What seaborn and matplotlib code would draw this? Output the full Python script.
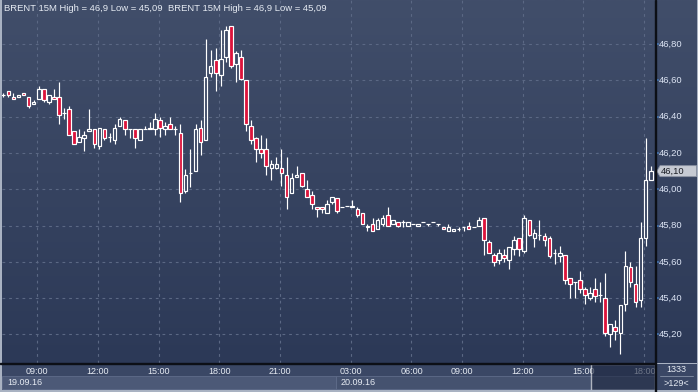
import numpy as np
import pandas as pd
import matplotlib
matplotlib.use("Agg")
import matplotlib.pyplot as plt
import matplotlib.transforms as mtransforms
from matplotlib.colors import LinearSegmentedColormap
from matplotlib.patches import Rectangle, Polygon
import seaborn as sns

# BRENT, 15 minute bars, 19.09.16 - 20.09.16
opens = [46.52, 46.54, 46.51, 46.51, 46.53, 46.51, 46.47, 46.50, 46.55, 46.48,
         46.51, 46.51, 46.42, 46.44, 46.32, 46.26, 46.28, 46.32, 46.33, 46.24,
         46.33, 46.29, 46.27, 46.35, 46.38, 46.33, 46.33, 46.27, 46.33, 46.34,
         46.33, 46.38, 46.33, 46.36, 46.33, 46.31, 45.99, 46.09, 46.10, 46.34,
         46.27, 46.64, 46.71, 46.63, 46.73, 46.90, 46.69, 46.73, 46.60, 46.35,
         46.28, 46.22, 46.22, 46.12, 46.12, 46.12, 46.08, 45.98, 46.07, 46.09,
         46.00, 45.97, 45.90, 45.90, 45.87, 45.93, 45.95, 45.90, 45.91, 45.90,
         45.89, 45.87, 45.80, 45.81, 45.78, 45.81, 45.86, 45.81, 45.82, 45.82,
         45.80, 45.81, 45.80, 45.82, 45.81, 45.82, 45.81, 45.79, 45.77, 45.77,
         45.78, 45.79, 45.80, 45.79, 45.80, 45.84, 45.71, 45.64, 45.61, 45.64,
         45.61, 45.67, 45.73, 45.66, 45.83, 45.73, 45.75, 45.74, 45.73, 45.65,
         45.63, 45.64, 45.51, 45.49, 45.50, 45.45, 45.40, 45.45, 45.42, 45.40,
         45.20, 45.24, 45.21, 45.37, 45.57, 45.48, 45.39, 45.73, 46.05]
highs = [46.53, 46.54, 46.53, 46.52, 46.53, 46.51, 46.49, 46.57, 46.55, 46.52,
         46.55, 46.59, 46.45, 46.46, 46.32, 46.33, 46.32, 46.44, 46.33, 46.34,
         46.33, 46.31, 46.36, 46.40, 46.38, 46.33, 46.33, 46.33, 46.35, 46.37,
         46.42, 46.40, 46.37, 46.40, 46.35, 46.36, 46.11, 46.22, 46.36, 46.38,
         46.83, 46.77, 46.78, 46.88, 46.90, 46.90, 46.76, 46.77, 46.60, 46.38,
         46.29, 46.30, 46.28, 46.16, 46.18, 46.22, 46.18, 46.09, 46.13, 46.09,
         46.05, 45.99, 45.90, 45.90, 45.94, 45.96, 45.95, 45.90, 45.91, 45.94,
         45.90, 45.87, 45.81, 45.84, 45.84, 45.86, 45.90, 45.83, 45.82, 45.83,
         45.82, 45.81, 45.81, 45.82, 45.81, 45.82, 45.81, 45.79, 45.81, 45.78,
         45.79, 45.79, 45.82, 45.79, 45.85, 45.84, 45.72, 45.65, 45.67, 45.67,
         45.68, 45.74, 45.73, 45.86, 45.83, 45.78, 45.83, 45.76, 45.74, 45.67,
         45.69, 45.64, 45.51, 45.49, 45.55, 45.46, 45.46, 45.51, 45.49, 45.54,
         45.26, 45.28, 45.36, 45.66, 45.60, 45.58, 45.82, 46.28, 46.13]
lows = [46.51, 46.51, 46.50, 46.51, 46.52, 46.45, 46.47, 46.50, 46.48, 46.47,
        46.50, 46.36, 46.39, 46.30, 46.25, 46.26, 46.21, 46.32, 46.23, 46.22,
        46.27, 46.26, 46.25, 46.35, 46.30, 46.28, 46.23, 46.27, 46.33, 46.33,
        46.30, 46.29, 46.30, 46.33, 46.30, 45.93, 45.98, 46.01, 46.10, 46.19,
        46.27, 46.62, 46.54, 46.57, 46.70, 46.67, 46.59, 46.60, 46.32, 46.25,
        46.15, 46.17, 46.08, 46.05, 46.11, 46.02, 45.89, 45.98, 46.07, 46.01,
        45.96, 45.89, 45.85, 45.87, 45.87, 45.92, 45.87, 45.90, 45.91, 45.90,
        45.85, 45.81, 45.77, 45.77, 45.78, 45.80, 45.80, 45.81, 45.79, 45.79,
        45.80, 45.81, 45.80, 45.82, 45.80, 45.82, 45.80, 45.78, 45.77, 45.77,
        45.77, 45.77, 45.78, 45.79, 45.80, 45.64, 45.65, 45.58, 45.59, 45.60,
        45.56, 45.64, 45.63, 45.65, 45.74, 45.68, 45.72, 45.69, 45.62, 45.59,
        45.60, 45.48, 45.40, 45.40, 45.43, 45.37, 45.39, 45.38, 45.38, 45.19,
        45.13, 45.17, 45.09, 45.33, 45.46, 45.35, 45.35, 45.69, 46.05]
closes = [46.52, 46.52, 46.50, 46.52, 46.52, 46.46, 46.48, 46.55, 46.49, 46.52,
          46.50, 46.41, 46.42, 46.30, 46.25, 46.29, 46.30, 46.33, 46.25, 46.34,
          46.28, 46.29, 46.34, 46.39, 46.33, 46.33, 46.28, 46.33, 46.33, 46.33,
          46.39, 46.34, 46.35, 46.33, 46.33, 45.98, 46.08, 46.09, 46.33, 46.26,
          46.62, 46.68, 46.64, 46.72, 46.88, 46.68, 46.75, 46.61, 46.36, 46.27,
          46.22, 46.20, 46.13, 46.14, 46.14, 46.09, 45.96, 46.06, 46.08, 46.02,
          45.96, 45.92, 45.89, 45.89, 45.92, 45.96, 45.88, 45.90, 45.91, 45.91,
          45.86, 45.81, 45.79, 45.77, 45.83, 45.84, 45.80, 45.83, 45.80, 45.82,
          45.82, 45.81, 45.81, 45.82, 45.81, 45.82, 45.81, 45.78, 45.79, 45.78,
          45.78, 45.79, 45.78, 45.79, 45.83, 45.72, 45.65, 45.60, 45.65, 45.62,
          45.68, 45.72, 45.67, 45.84, 45.75, 45.76, 45.75, 45.72, 45.63, 45.65,
          45.65, 45.50, 45.48, 45.49, 45.45, 45.42, 45.43, 45.41, 45.42, 45.21,
          45.26, 45.22, 45.36, 45.58, 45.49, 45.38, 45.73, 46.05, 46.10]

tick_bars = [7, 19, 31, 43, 55, 69, 81, 91, 103, 115, 127]
tick_labels = ["09:00", "12:00", "15:00", "18:00", "21:00", "03:00",
               "06:00", "09:00", "12:00", "15:00", "18:00"]
price_levels = [45.2, 45.4, 45.6, 45.8, 46.0, 46.2, 46.4, 46.6, 46.8]
dates = ["19.09.16", "20.09.16"]
date_start_bars = [0, 66]
last_price = 46.10
title = "BRENT 15M High = 46,9 Low = 45,09"
bars_total = "1333"
bars_visible = ">129<"

sns.set_style("dark")
plt.rcParams["font.family"] = ["Liberation Sans", "DejaVu Sans"]

df = pd.DataFrame({"open": opens, "high": highs, "low": lows, "close": closes})
df["bar"] = np.arange(len(df))
df["up"] = df["close"] >= df["open"]
df["body_lo"] = df[["open", "close"]].min(axis=1)
df["body_hi"] = df[["open", "close"]].max(axis=1)

W, H = 698, 392
fig = plt.figure(figsize=(W / 100, H / 100), dpi=100, facecolor="#a9b2c2")


def px_box(x0, y0, x1, y1):
    return [x0 / W, 1 - y1 / H, (x1 - x0) / W, (y1 - y0) / H]


ax = fig.add_axes(px_box(2, 0, 655, 363))
ax_r = fig.add_axes(px_box(656, 0, 697, 363))
ax_b = fig.add_axes(px_box(2, 364, 655, 390))
ax_c = fig.add_axes(px_box(656, 364, 697, 390))

step = 5.058
xlim = ((2 - 3.3) / step, (655 - 3.3) / step)
ylim = (46 - (363 - 189.3) / 181.5, 46 + 189.3 / 181.5)

bg = LinearSegmentedColormap.from_list("bg", ["#2c3957", "#414e6a"])
grad = np.linspace(0, 1, 256).reshape(-1, 1)
for a in (ax, ax_r):
    a.set_autoscale_on(False)
    a.set_xlim(xlim if a is ax else (0, 1))
    a.set_ylim(ylim)
    a.imshow(grad, cmap=bg, origin="lower", aspect="auto",
             extent=[*a.get_xlim(), *ylim], zorder=0)

for a in (ax, ax_r, ax_b, ax_c):
    a.set_xticks([])
    a.set_yticks([])
    for s in a.spines.values():
        s.set_visible(False)

fig.patches.append(Rectangle((655 / W, 0), 1 / W, 1, transform=fig.transFigure,
                             color="#0c0f16", zorder=10))
fig.patches.append(Rectangle((0, 1 - 364 / H), 655 / W, 1 / H, transform=fig.transFigure,
                             color="#0c0f16", zorder=10))

grid_kw = dict(color="#5b6884", lw=0.8, dashes=(2.5, 3.5), zorder=1)
for lev in price_levels:
    ax.axhline(lev, **grid_kw)
for b in tick_bars:
    ax.axvline(b - 0.3, **grid_kw)

# candles
white = "#ffffff"
red = "#dc143c"
ax.vlines(df["bar"], df["low"], df["body_lo"], color=white, lw=0.85, zorder=3)
ax.vlines(df["bar"], df["body_hi"], df["high"], color=white, lw=0.85, zorder=3)
dn = df[~df["up"]]
up = df[df["up"]]
ax.bar(dn["bar"], dn["open"] - dn["close"], bottom=dn["close"], width=0.72,
       color=red, edgecolor=white, linewidth=0.85, zorder=4)
ax.bar(up["bar"], up["close"] - up["open"], bottom=up["open"], width=0.72,
       facecolor="none", edgecolor=white, linewidth=0.85, zorder=4)

# header
txt_col = "#e6ebf3"
for x0 in (4, 168):
    fig.text(x0 / W, 1 - 8.5 / H, title, color=txt_col, fontsize=6.8,
             va="center", ha="left", zorder=20)

# price scale
tr = mtransforms.blended_transform_factory(ax_r.transAxes, ax_r.transData)
for lev in price_levels:
    ax_r.text(0.08, lev, f"{lev:.2f}".replace(".", ","), transform=tr,
              color="#dce4f4", fontsize=6.8, va="center", ha="left")
    ax_r.plot([0.0, 0.06], [lev, lev], transform=tr, color="#4d8bd6", lw=1.2)
dh = 5.5 / 181.5
tag = Polygon([(0.02, last_price), (0.1, last_price + dh), (0.99, last_price + dh),
               (0.99, last_price - dh), (0.1, last_price - dh)], closed=True,
              transform=tr, facecolor="#c6cad3", edgecolor="#8a92a2", lw=0.6, zorder=5)
ax_r.add_patch(tag)
ax_r.text(0.11, last_price, f"{last_price:.2f}".replace(".", ","), transform=tr,
          color="#1a1d24", fontsize=6.8, va="center", ha="left", zorder=6)

# time axis
ax_b.set_facecolor("#3a4765")
ax_b.set_xlim(xlim)
ax_b.set_ylim(0, 1)
for b, lab in zip(tick_bars, tick_labels):
    ax_b.text(b - 0.3, 0.72, lab, color=txt_col, fontsize=6.5, ha="center", va="center")
ends = date_start_bars[1:] + [xlim[1] + 1]
fills = ["#4c5977", "#45526f"]
for start, end, d, fc in zip(date_start_bars, ends, dates, fills):
    x0 = max(start - 0.3, xlim[0])
    ax_b.add_patch(Rectangle((x0, 0.04), end - 0.3 - x0, 0.5, facecolor=fc,
                             edgecolor="#5f6c8a", lw=0.6, zorder=2))
    ax_b.text(x0 + 1.0, 0.29, d, color=txt_col, fontsize=6.5, ha="left",
              va="center", zorder=3)
ax_b.add_patch(Rectangle((116.2, 0), xlim[1] - 116.2, 1, facecolor="#1d2740",
                         alpha=0.6, zorder=5))

ax_c.set_facecolor("#3a4765")
ax_c.set_xlim(0, 1)
ax_c.set_ylim(0, 1)
ax_c.text(0.5, 0.78, bars_total, color=txt_col, fontsize=6.5, ha="center", va="center")
ax_c.plot([0.1, 0.9], [0.52, 0.52], color="#8590a6", lw=0.6)
ax_c.text(0.5, 0.25, bars_visible, color=txt_col, fontsize=6.5, ha="center", va="center")

fig.savefig("out.png", dpi=100, facecolor=fig.get_facecolor())
